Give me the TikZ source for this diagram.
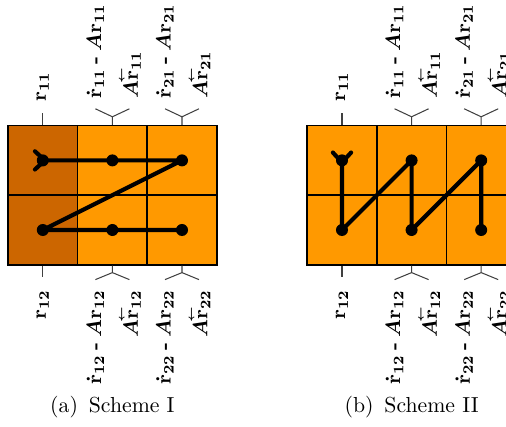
\documentclass[tikz,border=0pt]{standalone}
\usepackage{amsmath}
\usetikzlibrary{arrows.meta}
\definecolor{CellDark}{RGB}{204,102,0}
\definecolor{CellLight}{RGB}{255,153,0}
\newcommand{\backr}{{\overset{\makebox[0pt]{$\scriptscriptstyle\leftarrow$}}{\mathbf{r}}}}
\tikzset{
  cell/.style={draw=black,fill=CellLight,line width=0.8pt,minimum size=33.6pt,
    inner sep=0pt},
  darkcell/.style={cell,fill=CellDark},
  dot/.style={circle,fill=black,minimum size=5.8pt,inner sep=0pt},
  route/.style={line width=2pt,line join=round,shorten <=-4.8pt,
    {Straight Barb[reversed,length=4.8pt,width=8.8pt,line cap=round]}-},
  tick/.style={draw=black!75,line width=0.5pt},
  toplabel/.style={rotate=90,anchor=west,inner sep=1pt,font=\bfseries\boldmath},
  botlabel/.style={rotate=90,anchor=east,inner sep=1pt,font=\bfseries\boldmath},
  caption/.style={font=\fontsize{10.5}{13}\selectfont}
}

\begin{document}
\begin{tikzpicture}[x=0.483pt,y=-0.483pt]
  \clip (0,0) rectangle (506,427);
  \useasboundingbox (0,0) rectangle (506,427);

  % scheme I
  \node[darkcell] (a11) at (42.8,160.4) {};
  \node[cell] (a12) at (112.4,160.4) {};
  \node[cell] (a13) at (182.0,160.4) {};
  \node[darkcell] (a21) at (42.8,230.0) {};
  \node[cell] (a22) at (112.4,230.0) {};
  \node[cell] (a23) at (182.0,230.0) {};

  % scheme II
  \node[cell] (b11) at (342.0,160.4) {};
  \node[cell] (b12) at (411.6,160.4) {};
  \node[cell] (b13) at (481.2,160.4) {};
  \node[cell] (b21) at (342.0,230.0) {};
  \node[cell] (b22) at (411.6,230.0) {};
  \node[cell] (b23) at (481.2,230.0) {};

  \foreach \g in {a,b}{
    \foreach \r in {1,2}{
      \foreach \c in {1,2,3}{
        \node[dot] (p\g\r\c) at (\g\r\c) {};
      }
    }
    \draw[tick] (\g11.north) -- ++(0,-12) coordinate (\g-t1);
    \node[toplabel] (\g-lt1) at ([yshift=4.3pt]\g-t1) {$\mathbf{r}_{11}$};
    \draw[tick] (\g21.south) -- ++(0,11) coordinate (\g-b1);
    \node[botlabel] (\g-lb1) at ([yshift=-5.3pt]\g-b1) {$\mathbf{r}_{12}$};
    \foreach \c/\t/\u in {2/11/12,3/21/22}{
      \draw[tick] (\g1\c.north) -- ++(0,-8) coordinate (\g-t\c)
        -- ++(-17,-8) coordinate (\g-tl\c);
      \draw[tick] (\g-t\c) -- ++(17,-8) coordinate (\g-tr\c);
      \node[toplabel] (\g-lta\c) at ([yshift=3.8pt]\g-tl\c)
        {$\dot{\mathbf{r}}_{\t}$\:-\:$A\mathbf{r}_{\t}$};
      \node[toplabel] (\g-ltb\c) at ([yshift=3.8pt]\g-tr\c)
        {$A\backr_{\t}$};
      \draw[tick] (\g2\c.south) -- ++(0,7) coordinate (\g-b\c)
        -- ++(-17,7) coordinate (\g-bl\c);
      \draw[tick] (\g-b\c) -- ++(17,7) coordinate (\g-br\c);
      \node[botlabel] (\g-lba\c) at ([yshift=-3.8pt]\g-bl\c)
        {$\dot{\mathbf{r}}_{\u}$\:-\:$A\mathbf{r}_{\u}$};
      \node[botlabel] (\g-lbb\c) at ([yshift=-3.8pt]\g-br\c)
        {$A\backr_{\u}$};
    }
  }

  \draw[route] (pa11.center) -- (pa12.center) -- (pa13.center)
    -- (pa21.center) -- (pa22.center) -- (pa23.center);
  \draw[route] (pb11.center) -- (pb21.center) -- (pb12.center)
    -- (pb22.center) -- (pb13.center) -- (pb23.center);

  \node[caption] (capa) at (112.4,407) {(a)\enspace Scheme I};
  \node[caption] (capb) at (411.6,407) {(b)\enspace Scheme II};
\end{tikzpicture}
\end{document}
